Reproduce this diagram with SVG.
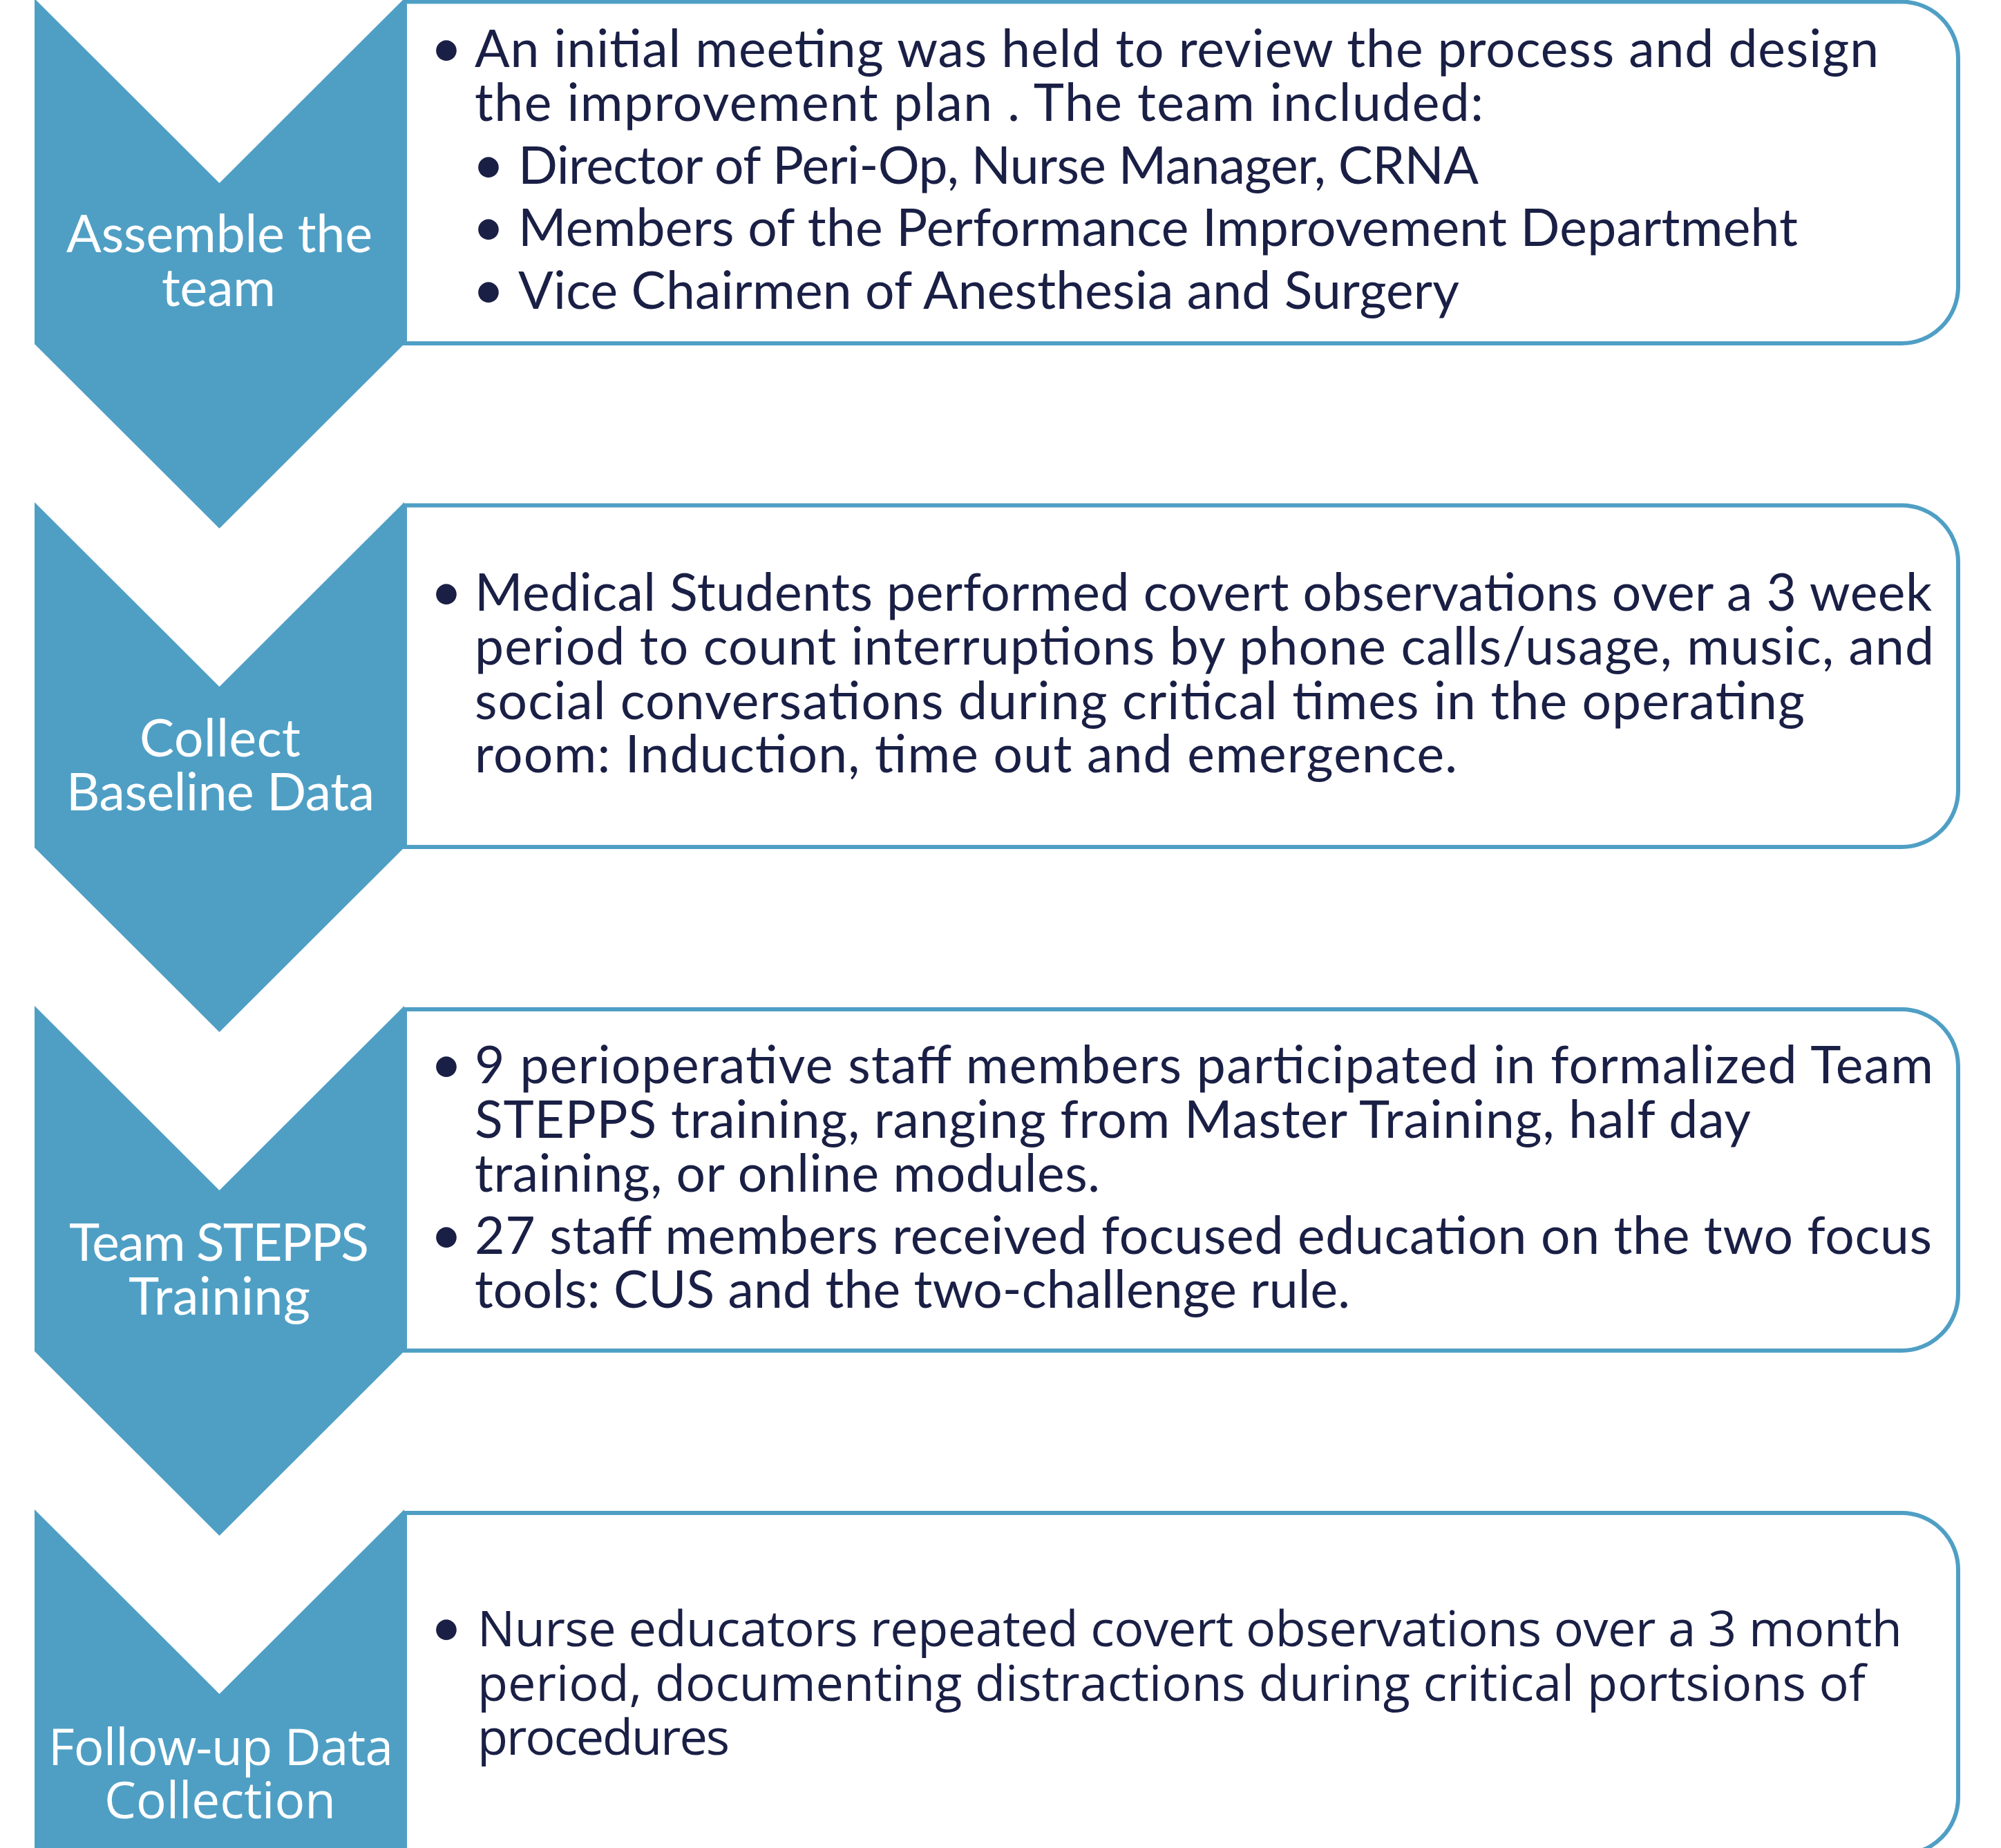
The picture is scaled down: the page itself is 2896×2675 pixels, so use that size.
<svg xmlns="http://www.w3.org/2000/svg" width="2896" height="2675" viewBox="0 0 2896 2675">
<style>
.chev{fill:#4F9FC5}
.box{fill:#FFFFFF;stroke:#4F9FC5;stroke-width:6}
.lbl{font-family:Lato,"Open Sans",sans-serif;font-size:75px;fill:#FFFFFF;text-anchor:middle}
.lbl4{font-family:"Open Sans","Noto Sans",sans-serif;font-size:73px;fill:#FFFFFF;text-anchor:middle}
.txt{font-family:Lato,"Open Sans",sans-serif;font-size:75px;fill:#1A1F45}
.txt4{font-family:"Open Sans","Noto Sans",sans-serif;font-size:72px;fill:#1A1F45}
.bul{font-family:Lato,"Open Sans",sans-serif;font-size:80px;fill:#1A1F45;text-anchor:middle}
</style>
<rect x="0" y="0" width="2896" height="2675" fill="#FFFFFF"/>
<g id="connectors"></g>

<g id="box1">
<path class="box" d="M586 2.5 H2752 A82 82 0 0 1 2834 84.5 V415 A82 82 0 0 1 2752 497 H586 Z"/>
<text class="bul" x="646" y="97">•</text>
<text class="txt" x="687" y="97" textLength="2032" lengthAdjust="spacing">An initial meeting was held to review the process and design</text>
<text class="txt" x="687" y="174.5" textLength="1460" lengthAdjust="spacing">the improvement plan . The team included:</text>
<text class="bul" x="707" y="266">•</text>
<text class="txt" x="750" y="266" textLength="1390" lengthAdjust="spacing">Director of Peri-Op, Nurse Manager, CRNA</text>
<text class="bul" x="707" y="356">•</text>
<text class="txt" x="750" y="356" textLength="1852" lengthAdjust="spacing">Members of the Performance Improvement Departmeht</text>
<text class="bul" x="707" y="447">•</text>
<text class="txt" x="750" y="447" textLength="1362" lengthAdjust="spacing">Vice Chairmen of Anesthesia and Surgery</text>
</g>

<g id="box2">
<path class="box" d="M586 731.5 H2752 A82 82 0 0 1 2834 813.5 V1144 A82 82 0 0 1 2752 1226 H586 Z"/>
<text class="bul" x="646" y="884">•</text>
<text class="txt" x="687" y="884" textLength="2109" lengthAdjust="spacing">Medical Students performed covert observations over a 3 week</text>
<text class="txt" x="687" y="962" textLength="2112" lengthAdjust="spacing">period to count interruptions by phone calls/usage, music, and</text>
<text class="txt" x="687" y="1041" textLength="1925" lengthAdjust="spacing">social conversations during critical times in the operating</text>
<text class="txt" x="687" y="1118" textLength="1422" lengthAdjust="spacing">room: Induction, time out and emergence.</text>
</g>

<g id="box3">
<path class="box" d="M586 1461 H2752 A82 82 0 0 1 2834 1543 V1873 A82 82 0 0 1 2752 1955 H586 Z"/>
<text class="bul" x="646" y="1568">•</text>
<text class="txt" x="687" y="1568" textLength="2111" lengthAdjust="spacing">9 perioperative staff members participated in formalized Team</text>
<text class="txt" x="687" y="1647" textLength="1847" lengthAdjust="spacing">STEPPS training, ranging from Master Training, half day</text>
<text class="txt" x="687" y="1725" textLength="905" lengthAdjust="spacing">training, or online modules.</text>
<text class="bul" x="646" y="1815">•</text>
<text class="txt" x="687" y="1815" textLength="2109" lengthAdjust="spacing">27 staff members received focused education on the two focus</text>
<text class="txt" x="687" y="1893" textLength="1267" lengthAdjust="spacing">tools: CUS and the two-challenge rule.</text>
</g>

<g id="box4">
<path class="box" d="M586 2190 H2752 A82 82 0 0 1 2834 2272 V2602 A82 82 0 0 1 2752 2684 H586 Z"/>
<text class="bul" x="646" y="2383">•</text>
<text class="txt4" x="691" y="2383" textLength="2062" lengthAdjust="spacing">Nurse educators repeated covert observations over a 3 month</text>
<text class="txt4" x="691" y="2462" textLength="2009" lengthAdjust="spacing">period, documenting distractions during critical portsions of</text>
<text class="txt4" x="691" y="2540" textLength="365" lengthAdjust="spacing">procedures</text>
</g>

<g id="step1">
<polygon class="chev" points="50,-2 317.5,265 585,-2 585,498 317.5,765 50,498"/>
<text class="lbl" x="317.5" y="365" textLength="443" lengthAdjust="spacing">Assemble the</text>
<text class="lbl" x="316.5" y="443" textLength="165" lengthAdjust="spacing">team</text>
</g>
<g id="step2">
<polygon class="chev" points="50,727 317.5,994 585,727 585,1227 317.5,1494 50,1227"/>
<text class="lbl" x="318.5" y="1095" textLength="233" lengthAdjust="spacing">Collect</text>
<text class="lbl" x="319" y="1173" textLength="446" lengthAdjust="spacing">Baseline Data</text>
</g>
<g id="step3">
<polygon class="chev" points="50,1456 317.5,1723 585,1456 585,1956 317.5,2223 50,1956"/>
<text class="lbl" x="317" y="1825" textLength="434" lengthAdjust="spacing">Team STEPPS</text>
<text class="lbl" x="317.5" y="1903" textLength="263" lengthAdjust="spacing">Training</text>
</g>
<g id="step4">
<polygon class="chev" points="50,2185 317.5,2452 585,2185 585,2685 317.5,2952 50,2685"/>
<text class="lbl4" x="319.5" y="2555" textLength="499" lengthAdjust="spacing">Follow-up Data</text>
<text class="lbl4" x="318.5" y="2632" textLength="335" lengthAdjust="spacing">Collection</text>
</g>
</svg>
